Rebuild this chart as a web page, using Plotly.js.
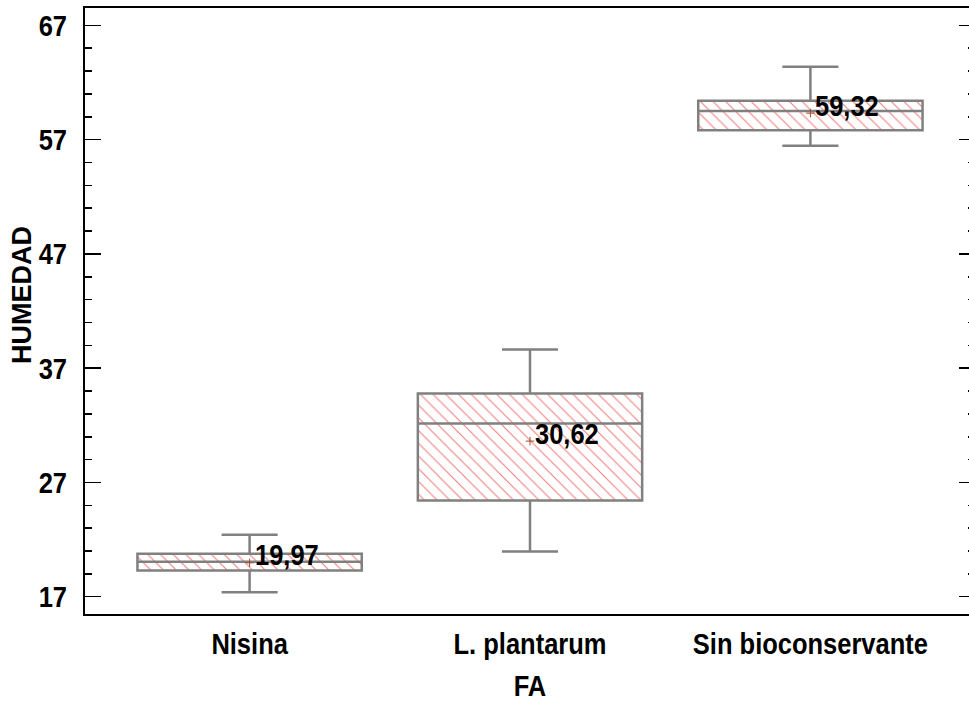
<!DOCTYPE html>
<html>
<head>
<meta charset="utf-8">
<script src="https://cdn.plot.ly/plotly-3.0.1.min.js"></script>
<style>
html,body{margin:0;padding:0;overflow:hidden;background:#fff;}
#chart{width:975px;height:709px;}
</style>
</head>
<body>
<div id="chart"></div>
<script>
// Data
const categories = ["Nisina", "L. plantarum", "Sin bioconservante"];
const lowerWhisker = [17.40, 20.97, 56.46];
const q1Values = [19.30, 25.43, 57.83];
const medianValues = [20.06, 32.15, 59.50];
const q3Values = [20.77, 34.78, 60.40];
const upperWhisker = [22.43, 38.63, 63.38];
const meanValues = [19.97, 30.62, 59.32];
const meanLabels = ["19,97", "30,62", "59,32"];
const yTickVals = [17, 27, 37, 47, 57, 67];
const yTitle = "HUMEDAD";
const xTitle = "FA";

const font = '"Liberation Sans", Arial, sans-serif';
const NARROW = 0.85; // emulate a narrow face

const iqr = q3Values.map((v, i) => v - q1Values[i]);

const hatch = {
  type: 'bar',
  x: categories,
  base: q1Values,
  y: iqr,
  width: 0.8,
  marker: {
    color: 'white',
    line: {width: 0},
    pattern: {shape: '\\', fgcolor: '#f07a7a', bgcolor: 'white', size: 9, solidity: 0.11}
  },
  hoverinfo: 'skip',
  showlegend: false
};

const box = {
  type: 'box',
  x: categories,
  q1: q1Values,
  median: medianValues,
  q3: q3Values,
  lowerfence: lowerWhisker,
  upperfence: upperWhisker,
  width: 0.8,
  whiskerwidth: 0.25,
  fillcolor: 'rgba(0,0,0,0)',
  line: {color: '#808080', width: 2.5},
  boxpoints: false,
  hoverinfo: 'skip',
  showlegend: false
};

const means = {
  type: 'scatter',
  mode: 'markers',
  x: categories,
  y: meanValues,
  marker: {symbol: 'cross-thin', size: 6, line: {color: '#a04a2a', width: 1}},
  hoverinfo: 'skip',
  showlegend: false
};

const annotations = categories.map((c, i) => ({
  x: c, y: meanValues[i], xref: 'x', yref: 'y',
  text: meanLabels[i], showarrow: false,
  xanchor: 'left', yanchor: 'middle', xshift: 3, yshift: 8,
  font: {family: font, size: 30, color: 'black', weight: 'bold'}
}));
annotations.push({
  x: -0.071, y: 0.526, xref: 'paper', yref: 'paper',
  text: yTitle, showarrow: false, textangle: -90,
  xanchor: 'center', yanchor: 'middle',
  font: {family: font, size: 27, color: 'black', weight: 'bold'}
});

const layout = {
  width: 975, height: 709,
  margin: {l: 85, r: 0, t: 8, b: 95},
  paper_bgcolor: 'white',
  plot_bgcolor: 'white',
  barmode: 'overlay',
  showlegend: false,
  xaxis: {
    type: 'category',
    range: [-0.587, 2.587],
    showline: true, linecolor: 'black', linewidth: 2, mirror: true,
    ticks: '', showgrid: false, zeroline: false,
    tickfont: {family: font, size: 30, color: 'black', weight: 'bold'},
    ticklabelstandoff: 2,
    title: {text: xTitle, font: {family: font, size: 30, color: 'black', weight: 'bold'}, standoff: 16}
  },
  yaxis: {
    range: [15.49, 68.52],
    tickvals: yTickVals,
    ticktext: yTickVals.map(String),
    ticks: 'inside', ticklen: 16, tickwidth: 1.5, tickcolor: 'black',
    minor: {dtick: 2, tick0: 17, ticks: 'inside', ticklen: 7, tickwidth: 1.5, tickcolor: 'black', showgrid: false},
    showline: true, linecolor: 'black', linewidth: 2, mirror: 'allticks',
    showgrid: false, zeroline: false,
    tickfont: {family: font, size: 30, color: 'black', weight: 'bold'},
    ticklabelstandoff: 10
  },
  annotations: annotations
};

function narrowText(el, pivotMode) {
  const bb = el.getBBox();
  let px;
  if (pivotMode === 'left') px = bb.x;
  else {
    const anchor = el.getAttribute('text-anchor') || 'start';
    if (anchor === 'end') px = bb.x + bb.width;
    else if (anchor === 'middle') px = bb.x + bb.width / 2;
    else px = bb.x;
  }
  const t = el.getAttribute('transform') || '';
  el.setAttribute('transform', t + ' translate(' + px + ',0) scale(' + NARROW + ',1) translate(' + (-px) + ',0)');
}

Plotly.newPlot('chart', [hatch, box, means], layout, {displayModeBar: false, staticPlot: true}).then(gd => {
  gd.querySelectorAll('.xtick text, .ytick text, .g-xtitle text').forEach(el => narrowText(el, 'anchor'));
  gd.querySelectorAll('.annotation').forEach((g, i) => {
    if (i < meanLabels.length) {
      const t = g.querySelector('text');
      if (t) narrowText(t, 'left');
    }
  });
});
</script>
</body>
</html>
